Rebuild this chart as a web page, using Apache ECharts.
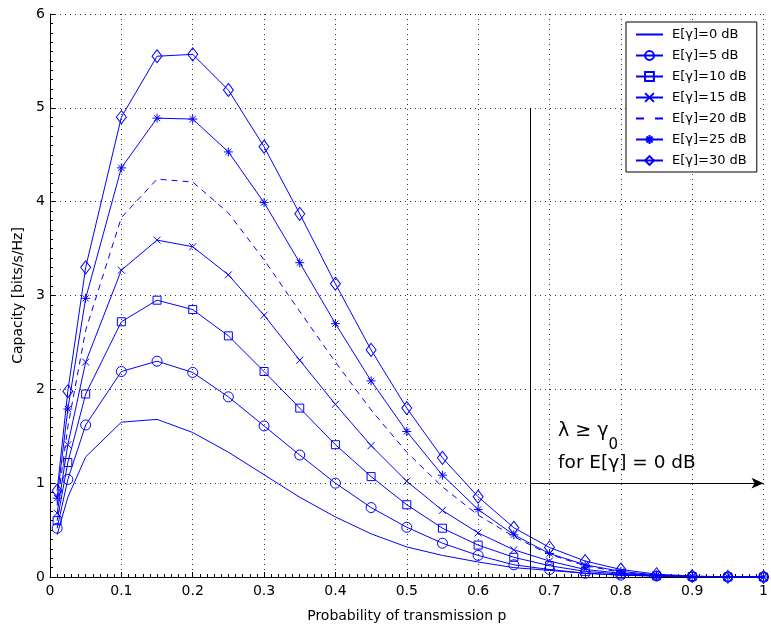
<!DOCTYPE html>
<html>
<head>
<meta charset="utf-8">
<script src="https://cdn.jsdelivr.net/npm/echarts@6/dist/echarts.min.js"></script>
<style>html,body{margin:0;padding:0;background:#fff}#c{width:771px;height:629px}</style>
</head>
<body>
<div id="c"></div>
<script>
// ---- data ----
const p = [0.01,0.025,0.05,0.1,0.15,0.2,0.25,0.3,0.35,0.4,0.45,0.5,0.55,0.6,0.65,0.7,0.75,0.8,0.85,0.9,0.95,1.0];
const cap0  = [0.45,0.85,1.28,1.65,1.68,1.54,1.33,1.09,0.85,0.64,0.46,0.32,0.23,0.16,0.10,0.07,0.04,0.02,0.01,0.005,0.002,0];
const cap5  = [0.52,1.04,1.62,2.19,2.30,2.18,1.92,1.61,1.30,1.00,0.74,0.53,0.36,0.23,0.13,0.08,0.04,0.02,0.01,0.004,0.001,0];
const cap10 = [0.60,1.22,1.95,2.72,2.95,2.85,2.57,2.19,1.80,1.41,1.07,0.77,0.52,0.34,0.21,0.12,0.06,0.03,0.012,0.005,0.001,0];
const cap15 = [0.68,1.41,2.29,3.27,3.59,3.52,3.22,2.79,2.31,1.84,1.40,1.02,0.71,0.47,0.29,0.17,0.08,0.04,0.015,0.005,0.001,0];
const cap20 = [0.76,1.60,2.63,3.83,4.24,4.21,3.88,3.38,2.83,2.29,1.78,1.33,0.96,0.66,0.43,0.24,0.12,0.05,0.02,0.006,0.001,0];
const cap25 = [0.84,1.79,2.97,4.36,4.89,4.88,4.53,3.99,3.35,2.70,2.09,1.55,1.085,0.72,0.45,0.25,0.13,0.06,0.02,0.007,0.002,0];
const cap30 = [0.92,1.98,3.30,4.90,5.55,5.57,5.19,4.585,3.87,3.125,2.42,1.80,1.27,0.855,0.525,0.315,0.17,0.08,0.03,0.01,0.002,0];
const seriesNames = ['E[γ]=0 dB','E[γ]=5 dB','E[γ]=10 dB','E[γ]=15 dB','E[γ]=20 dB','E[γ]=25 dB','E[γ]=30 dB'];
const xTicks = {min:0, max:1, interval:0.1};
const yTicks = {min:0, max:6, interval:1};
const boundaryP = 0.673;      // vertical boundary position
const boundaryTop = 5;        // vertical line top
const arrowLevel = 1;         // arrow height
const annotLine1 = {x:0.712, y:1.555};
const annotLine2 = {x:0.712, y:1.215};

// ---- chart ----
const BLUE = '#0000ff';
const FONT = 'DejaVu Sans';
const zip = (ys) => p.map((x,i)=>[x, ys[i]]);
const xShape = 'path://M0,0L10,10M10,0L0,10';
const starShape = 'path://M5,0L5,10M0,5L10,5M1.6,1.6L8.4,8.4M8.4,1.6L1.6,8.4';

function mk(name, ys, symbol, size, dashed) {
  return {
    name, type:'line', data: zip(ys),
    symbol: symbol || 'none', showSymbol: !!symbol, symbolSize: size || 0,
    lineStyle:{color:BLUE, width:1, type: dashed ? [6,5] : 'solid'},
    itemStyle:{color:'rgba(255,255,255,0)', borderColor:BLUE, borderWidth:1},
    emphasis:{disabled:true}, animation:false, z:3
  };
}

const legendData = seriesNames.map((n, i) => {
  const item = {name:n};
  if (i === 0) item.itemStyle = {opacity:0};
  if (i === 4) { item.itemStyle = {opacity:0}; item.lineStyle = {type:[8,11]}; }
  return item;
});

const chart = echarts.init(document.getElementById('c'), null, {renderer:'canvas'});
chart.setOption({
  animation:false,
  backgroundColor:'#fff',
  textStyle:{fontFamily:FONT},
  grid:{left:50, right:6, top:14, bottom:52},
  legend:{
    data: legendData, orient:'vertical', left:626, top:22,
    backgroundColor:'#fff', borderColor:'#000', borderWidth:1, borderRadius:0,
    padding:[6,10,5,9], itemGap:8, itemWidth:27, itemHeight:11,
    textStyle:{fontFamily:FONT, fontSize:13, color:'#000', padding:[0,0,0,4]},
    selectedMode:false
  },
  xAxis:{
    type:'value', min:xTicks.min, max:xTicks.max, interval:xTicks.interval,
    name:'Probability of transmission p', nameLocation:'middle', nameGap:32,
    nameTextStyle:{fontFamily:FONT, fontSize:14, color:'#000'},
    axisLine:{lineStyle:{color:'#000', width:1}},
    axisTick:{inside:true, length:5, lineStyle:{color:'#000'}},
    minorTick:{show:true, splitNumber:10, length:3, lineStyle:{color:'#000'}},
    axisLabel:{fontFamily:FONT, fontSize:14, color:'#000', margin:7},
    splitLine:{show:true, lineStyle:{color:'#333', type:[1,4], width:1}}
  },
  yAxis:{
    type:'value', min:yTicks.min, max:yTicks.max, interval:yTicks.interval,
    name:'Capacity [bits/s/Hz]', nameLocation:'middle', nameGap:24,
    nameTextStyle:{fontFamily:FONT, fontSize:14, color:'#000'},
    axisLine:{show:true, lineStyle:{color:'#000', width:1}},
    axisTick:{show:true, inside:true, length:5, lineStyle:{color:'#000'}},
    minorTick:{show:true, splitNumber:10, length:3, lineStyle:{color:'#000'}},
    axisLabel:{fontFamily:FONT, fontSize:14, color:'#000', margin:5},
    splitLine:{show:true, lineStyle:{color:'#333', type:[1,4], width:1}}
  },
  series:[
    mk(seriesNames[0], cap0, null),
    mk(seriesNames[1], cap5, 'circle', 10),
    mk(seriesNames[2], cap10, 'rect', 8),
    mk(seriesNames[3], cap15, xShape, 7),
    mk(seriesNames[4], cap20, null, 0, true),
    mk(seriesNames[5], cap25, starShape, 9),
    mk(seriesNames[6], cap30, 'diamond', [10,13]),
    {
      name:'annotation', type:'line', data:[], animation:false, silent:true,
      markLine:{
        silent:true, animation:false, symbol:'none', label:{show:false},
        lineStyle:{color:'#000', width:1, type:'solid'},
        emphasis:{disabled:true},
        data:[
          [{coord:[boundaryP, 0], symbol:'none'}, {coord:[boundaryP, boundaryTop], symbol:'none'}],
          [{coord:[boundaryP, arrowLevel], symbol:'none'}, {coord:[xTicks.max, arrowLevel], symbol:'arrow', symbolSize:[8,12]}]
        ]
      },
      markPoint:{
        silent:true, animation:false, symbol:'circle', symbolSize:0,
        data:[
          {coord:[annotLine1.x, annotLine1.y], label:{show:true, position:'right', distance:0,
            formatter:'{a|λ ≥ γ}{s|0}',
            rich:{a:{fontFamily:FONT, fontSize:19, color:'#000', lineHeight:44, verticalAlign:'middle'},
                  s:{fontFamily:FONT, fontSize:15, color:'#000', lineHeight:15, verticalAlign:'bottom'}}}},
          {coord:[annotLine2.x, annotLine2.y], label:{show:true, position:'right', distance:0,
            formatter:'for E[γ] = 0 dB', fontFamily:FONT, fontSize:18.5, color:'#000'}}
        ]
      }
    }
  ]
});
</script>
</body>
</html>
